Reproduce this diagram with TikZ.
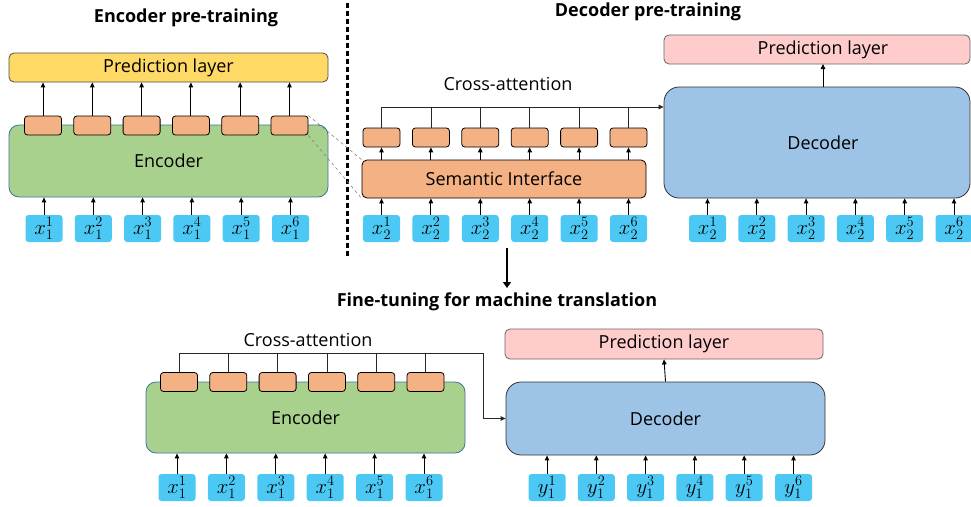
\documentclass[tikz,border=0pt]{standalone}
\usepackage{xcolor}
\usepackage{fontspec}
\setmainfont{Open Sans}
\usepackage{tikz}
\usetikzlibrary{positioning,arrows.meta}

\definecolor{predyellow}{HTML}{FFD966}
\definecolor{predpink}{HTML}{FFCCCC}
\definecolor{encgreen}{HTML}{A9D18E}
\definecolor{decblue}{HTML}{9DC3E6}
\definecolor{cellorange}{HTML}{F4B183}
\definecolor{tokcyan}{HTML}{4CC8F4}
\definecolor{encborder}{HTML}{41719C}

\begin{document}
\begin{tikzpicture}[x=1pt, y=-1pt, >={Triangle[length=5pt,width=4.5pt]},
    every node/.style={font=\fontsize{18}{20}\selectfont},
    tok/.style={rectangle, rounded corners=3pt, fill=tokcyan, minimum width=37pt, minimum height=27pt, inner sep=0pt, font=\fontsize{21}{21}\selectfont},
    cell/.style={rectangle, rounded corners=3pt, draw=black, line width=0.8pt, fill=cellorange, minimum width=37pt, minimum height=19pt, inner sep=0pt},
    block/.style={rectangle, rounded corners=#1, line width=0.8pt, inner sep=0pt},
    title/.style={font=\bfseries\fontsize{18}{20}\selectfont},
    feed/.style={->, line width=0.9pt},
    attn/.style={line width=0.8pt, black!85}]
   \useasboundingbox (0,0) rectangle (971,506);

   % Titles
   \node[title] (titleEnc) at (186,18) {Encoder pre-training};
   \node[title] (titleDec) at (648,12) {Decoder pre-training};
   \node[title] (titleFt) at (497,302) {Fine-tuning for machine translation};

   % Separator and step arrow
   \draw[line width=3pt, dash pattern=on 5pt off 3pt] (347,3) -- (347,256);
   \coordinate (stepTop) at (507,248);
   \coordinate (stepBot) at (507,288);
   \draw[->, line width=2.5pt, >={Triangle[length=6pt,width=8pt]}] (stepTop) -- (stepBot);

   % ---- Encoder pre-training ----
   \node[block=5pt, draw=black!70, fill=predyellow, minimum width=319pt, minimum height=29pt] (predA) at (168.5,67.5) {Prediction layer};
   \node[block=10pt, draw=encborder, fill=encgreen, minimum width=319pt, minimum height=72pt] (encA) at (168.5,161) {Encoder};
   \foreach \i in {1,...,6} {
      \node[cell] (cellA\i) at ({43+49.3*(\i-1)},125.5) {};
      \node[tok] (tokA\i) at ({44+49.3*(\i-1)},228.5) {$x_1^{\i}$};
      \draw[feed] (cellA\i.north) -- (cellA\i.north |- predA.south);
      \draw[feed] (tokA\i.north) -- (tokA\i.north |- encA.south);
   }

   % ---- Decoder pre-training ----
   \node[block=5pt, draw=black, fill=cellorange, minimum width=284pt, minimum height=38pt] (semi) at (504,179) {Semantic Interface};
   \foreach \i in {1,...,6} {
      \node[cell] (cellB\i) at ({381.5+49.4*(\i-1)},137.5) {};
      \node[tok] (tokB\i) at ({381.5+49.4*(\i-1)},228.5) {$x_2^{\i}$};
      \draw[feed] (semi.north -| cellB\i.south) -- (cellB\i.south);
      \draw[feed] (tokB\i.north) -- (tokB\i.north |- semi.south);
   }
   \draw[gray, dashed, line width=0.6pt] (cellA6.north east) -- (semi.north west);
   \draw[gray, dashed, line width=0.6pt] (cellA6.south east) -- (semi.south west);

   \node[block=15pt, draw=black!80, fill=decblue, minimum width=306pt, minimum height=111pt] (decB) at (817,142.5) {\hspace*{12pt}Decoder};
   \node[block=5pt, draw=black!60, fill=predpink, minimum width=306pt, minimum height=29pt] (predB) at (817,49.5) {\hspace*{12pt}Prediction layer};
   \draw[feed] (823,87) -- (823,64);
   \foreach \i in {1,...,6} {
      \node[tok] (tokC\i) at ({707.5+49.3*(\i-1)},228.5) {$x_2^{\i}$};
      \draw[feed] (tokC\i.north) -- (tokC\i.north |- decB.south);
   }

   % Cross-attention into the decoder
   \node (crossLblB) at (508,84) {Cross-attention};
   \coordinate (crossB) at (381.5,107);
   \draw[attn, ->] (cellB1.north) -- (crossB) -- (crossB -| decB.west);
   \foreach \i in {2,...,6}
      \draw[attn] (cellB\i.north) -- (cellB\i.north |- crossB);

   % ---- Fine-tuning ----
   \node[block=10pt, draw=encborder, fill=encgreen, minimum width=319pt, minimum height=71pt] (encD) at (305.5,417.5) {Encoder};
   \node[block=15pt, draw=black!80, fill=decblue, minimum width=319pt, minimum height=73pt] (decD) at (665.5,418.5) {Decoder};
   \node[block=5pt, draw=black!60, fill=predpink, minimum width=318pt, minimum height=30pt] (predD) at (664,344) {Prediction layer};
   \draw[feed] (decD.north) -- (predD.south);
   \foreach \i in {1,...,6} {
      \node[cell] (cellD\i) at ({179+49.3*(\i-1)},382) {};
      \node[tok] (tokD\i) at ({177+49.4*(\i-1)},487.5) {$x_1^{\i}$};
      \node[tok] (tokE\i) at ({547+49.3*(\i-1)},487.5) {$y_1^{\i}$};
      \draw[feed] (tokD\i.north) -- (tokD\i.north |- encD.south);
      \draw[feed] (tokE\i.north) -- (tokE\i.north |- decD.south);
   }
   \node (crossLblD) at (308,340) {Cross-attention};
   \coordinate (crossD) at (483,353);
   \draw[attn, ->] (cellD1.north) |- (crossD) |- (decD.west);
   \foreach \i in {2,...,6}
      \draw[attn] (cellD\i.north) -- (cellD\i.north |- crossD);
\end{tikzpicture}
\end{document}
